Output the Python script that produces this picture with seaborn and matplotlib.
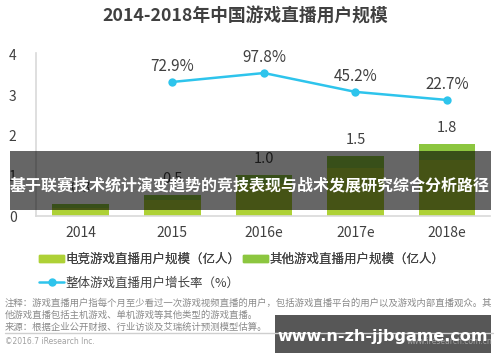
import numpy as np
import pandas as pd
import matplotlib
matplotlib.use("Agg")
import matplotlib.pyplot as plt
import matplotlib.patches as mpatches
from matplotlib.lines import Line2D
import seaborn as sns

# ---- data ----
years = ["2014", "2015", "2016e", "2017e", "2018e"]
esports_users = [0.2, 0.4, 0.8, 1.2, 1.4]      # 亿人 (hidden under banner, estimated)
other_users = [0.1, 0.12, 0.23, 0.3, 0.4]       # 亿人
total_labels = ["0.3", "0.5", "1.0", "1.5", "1.8"]
growth_rate = [np.nan, 72.9, 97.8, 45.2, 22.7]  # %
yticks = [0, 1, 2, 3, 4]

title = "2014-2018年中国游戏直播用户规模"
legend_labels = ["电竞游戏直播用户规模（亿人）", "其他游戏直播用户规模（亿人）", "整体游戏直播用户增长率（%）"]
note_lines = [
    "注释：游戏直播用户指每个月至少看过一次游戏视频直播的用户，包括游戏直播平台的用户以及游戏内部直播观众。其",
    "他游戏直播包括主机游戏、单机游戏等其他类型的游戏直播。",
    "来源：根据企业公开财报、行业访谈及艾瑞统计预测模型估算。",
]
copyright_text = "©2016.7 iResearch Inc."
site_text = "www.iresearch.com.cn"
banner_text = "基于联赛技术统计演变趋势的竞技表现与战术发展研究综合分析路径"
watermark_text = "www.n-zh-jjbgame.com"

sns.set_theme(style="white")
plt.rcParams["font.family"] = ["Noto Sans CJK SC", "DejaVu Sans"]

C_ESP = "#aed136"
C_OTH = "#8cc63f"
C_LINE = "#2ec4ec"
C_TXT = "#404040"

df = pd.DataFrame({
    "year": years,
    "esports": esports_users,
    "other": other_users,
})
df["total"] = df["esports"] + df["other"]

fig = plt.figure(figsize=(5.0, 3.62), dpi=100)
ax = fig.add_axes([0.072, 0.403, 0.908, 0.451])

sns.barplot(data=df, x="year", y="total", color=C_OTH, width=0.62,
            saturation=1, ax=ax, order=years, linewidth=0, edgecolor="none")
sns.barplot(data=df, x="year", y="esports", color=C_ESP, width=0.62,
            saturation=1, ax=ax, order=years, linewidth=0, edgecolor="none")

for i, (tot, lab) in enumerate(zip(df["total"], total_labels)):
    ax.text(i, tot + 0.22, lab, ha="center", va="bottom", fontsize=10.5,
            color=C_TXT)

ax.set_ylim(0, 4.05)
ax.set_xlim(-0.49, 4.47)
ax.set_yticks(yticks)
ax.set_yticklabels([str(t) for t in yticks], fontsize=10, color=C_TXT)
ax.tick_params(axis="y", length=0, pad=14)
ax.tick_params(axis="x", length=0, pad=7, labelsize=10, labelcolor=C_TXT)
ax.set_xlabel("")
ax.set_ylabel("")
for s in ["top", "right"]:
    ax.spines[s].set_visible(False)
for s in ["left", "bottom"]:
    ax.spines[s].set_color("#d9d9d9")
    ax.spines[s].set_linewidth(1.2)

# growth line on hidden secondary axis
ax2 = ax.twinx()
xpos = np.arange(len(years))
gdf = pd.DataFrame({"x": xpos, "g": growth_rate}).dropna()
sns.lineplot(data=gdf, x="x", y="g", ax=ax2, color=C_LINE, linewidth=1.8,
             marker="o", markersize=6, markeredgewidth=0)
ax2.set_ylim(-301, 154)
ax2.set_axis_off()
for x, g in zip(gdf["x"], gdf["g"]):
    ax2.text(x, g + 20, f"{g:.1f}%", ha="center", va="bottom", fontsize=11,
             color=C_TXT)
ax.set_xlim(-0.49, 4.47)

# title
fig.text(0.49, 0.953, title, ha="center", va="center", fontsize=12.8,
         fontweight="bold", color=C_TXT)

# legend (manual)
h1 = mpatches.Patch(color=C_ESP)
h2 = mpatches.Patch(color=C_OTH)
h3 = Line2D([0], [0], color=C_LINE, lw=1.8, marker="o", markersize=5)
leg1 = fig.legend([h1, h2], legend_labels[:2], loc="center left",
                  bbox_to_anchor=(0.078, 0.284), ncol=2, frameon=False,
                  fontsize=9.0, handlelength=2.0, handleheight=0.45,
                  handletextpad=0.1, columnspacing=0.2, labelcolor=C_TXT,
                  borderaxespad=0, borderpad=0)
leg2 = fig.legend([h3], legend_labels[2:], loc="center left",
                  bbox_to_anchor=(0.078, 0.218), frameon=False,
                  fontsize=9.0, handlelength=2.0, handletextpad=0.1,
                  labelcolor=C_TXT, borderaxespad=0, borderpad=0)
fig.add_artist(leg1)

# notes
for k, line in enumerate(note_lines):
    fig.text(0.01, 1 - (303 + 12 * k) / 362, line, ha="left", va="center",
             fontsize=6.75, color="#8a8a8a")
fig.add_artist(Line2D([0.01, 0.986], [1 - 333 / 362, 1 - 333 / 362],
                      color="#cfcfcf", lw=1))
fig.text(0.01, 1 - 341 / 362, copyright_text, ha="left", va="center",
         fontsize=5.5, color="#a0a0a0", family=["DejaVu Sans"])
fig.text(0.985, 1 - 341 / 362, site_text, ha="right", va="center",
         fontsize=5.5, color="#a0a0a0", family=["DejaVu Sans"])

# overlay banner
fig.add_artist(mpatches.Rectangle((10 / 500, 1 - 210 / 362), 481 / 500,
                                  59 / 362, transform=fig.transFigure,
                                  color="black", alpha=0.6, lw=0))
fig.text(0.5, 1 - 185 / 362, banner_text, ha="center", va="center",
         fontsize=11.5, fontweight="bold", color="white")

# bottom-right watermark
fig.add_artist(mpatches.Rectangle((275 / 500, 1 - 353 / 362), 216 / 500,
                                  38 / 362, transform=fig.transFigure,
                                  color="#3a3a3a", alpha=0.85, lw=0))
fig.text(383 / 500, 1 - 336 / 362, watermark_text, ha="center", va="center",
         fontsize=11.5, fontweight="bold", color="white",
         family=["DejaVu Sans"])

fig.savefig("out.png", dpi=100)
